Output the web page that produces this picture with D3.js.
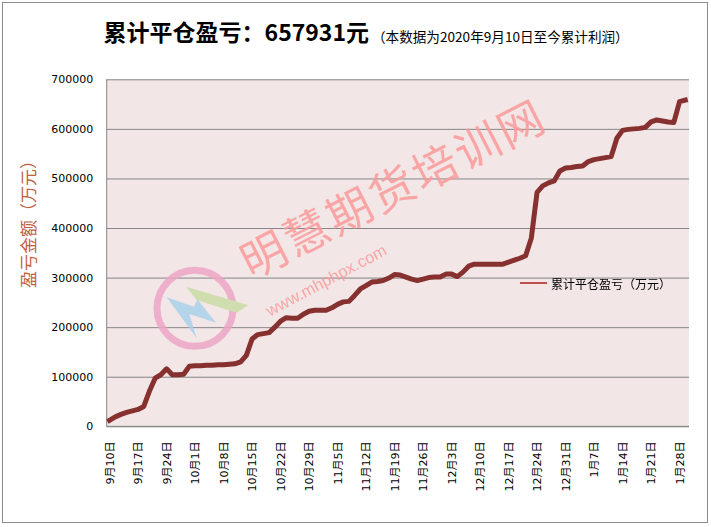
<!DOCTYPE html>
<html><head><meta charset="utf-8">
<script src="https://cdn.jsdelivr.net/npm/d3@7"></script>
<style>body{margin:0;background:#fff}svg{display:block}</style>
</head><body><svg id="c" width="711" height="527"></svg>
<script>
const dates = [
"9/10","9/11","9/14","9/15","9/16","9/17","9/18","9/21","9/22","9/23","9/24","9/25","9/28","9/29","9/30",
"10/1","10/2","10/5","10/6","10/7","10/8","10/9","10/12","10/13","10/14","10/15","10/16","10/19","10/20","10/21","10/22","10/23","10/26","10/27","10/28","10/29","10/30",
"11/2","11/3","11/4","11/5","11/6","11/9","11/10","11/11","11/12","11/13","11/16","11/17","11/18","11/19","11/20","11/23","11/24","11/25","11/26","11/27","11/30",
"12/1","12/2","12/3","12/4","12/7","12/8","12/9","12/10","12/11","12/14","12/15","12/16","12/17","12/18","12/21","12/22","12/23","12/24","12/25","12/28","12/29","12/30","12/31",
"1/1","1/4","1/5","1/6","1/7","1/8","1/11","1/12","1/13","1/14","1/15","1/18","1/19","1/20","1/21","1/22","1/25","1/26","1/27","1/28","1/29"];
const values = [
12000,19000,24000,28000,31000,34000,40000,71000,97000,104000,116000,104000,104000,105000,121000,
122000,122000,123000,123000,124000,124000,125000,126000,130000,143000,176000,185000,187000,189000,200000,212000,219000,218000,218000,226000,232000,234000,
234000,234000,239000,246000,251000,252000,264000,277000,284000,291000,292000,294000,299000,306000,305000,301000,297000,294000,297000,300000,301000,
301000,307000,307000,302000,311000,323000,327000,327000,327000,327000,327000,327000,331000,335000,339000,344000,380000,472000,485000,491000,495000,515000,521000,
522000,524000,525000,534000,538000,540000,542000,544000,581000,597000,599000,600000,601000,603000,614000,618000,616000,614000,613000,655000,657931];
const tickDates = ["9/10","9/17","9/24","10/1","10/8","10/15","10/22","10/29","11/5","11/12","11/19","11/26","12/3","12/10","12/17","12/24","12/31","1/7","1/14","1/21","1/28"];
const tickLabels = ["9月10日","9月17日","9月24日","10月1日","10月8日","10月15日","10月22日","10月29日","11月5日","11月12日","11月19日","11月26日","12月3日","12月10日","12月17日","12月24日","12月31日","1月7日","1月14日","1月21日","1月28日"];
const yTicks = [0,100000,200000,300000,400000,500000,600000,700000];
const titleMain = "累计平仓盈亏：657931元";
const titleNote = "（本数据为2020年9月10日至今累计利润）";
const seriesName = "累计平仓盈亏（万元）";
const yTitle = "盈亏金额（万元）";
const wmText = "明慧期货培训网";
const wmUrl = "www.mhphpx.com";

const svg = d3.select("#c");
const P = {l:106.7, r:689, t:79.3, b:426.3};
const x = d3.scalePoint().domain(dates).range([P.l, 688.1]).padding(0.5);
const y = d3.scaleLinear().domain([0,700000]).range([P.b, P.t]);
const CJK = "'Noto Sans CJK SC','Noto Sans',sans-serif";

// outer border
svg.append("rect").attr("x",2.5).attr("y",2.5).attr("width",705).attr("height",520)
  .attr("fill","#fff").attr("stroke","#8c8c8c").attr("stroke-width",1);

// plot background
svg.append("rect").attr("x",P.l).attr("y",P.t).attr("width",P.r-P.l).attr("height",P.b-P.t).attr("fill","#f2e6e6");

// y axis with gridlines
const ya = svg.append("g").attr("transform",`translate(${P.l},0)`)
  .call(d3.axisLeft(y).tickValues(yTicks).tickSize(-(P.r-P.l)).tickPadding(13.4).tickFormat(d=>String(d)));
ya.select(".domain").remove();
ya.selectAll(".tick line").attr("stroke","#868686").attr("stroke-width",1);
ya.selectAll(".tick text").attr("font-family","'DejaVu Sans',sans-serif").attr("font-size",11).attr("fill","#000");

// axis lines
svg.append("line").attr("x1",P.l).attr("x2",P.l).attr("y1",P.t).attr("y2",P.b+0.5).attr("stroke","#868686");
svg.append("line").attr("x1",P.l).attr("x2",P.r).attr("y1",P.b).attr("y2",P.b).attr("stroke","#868686");

// watermark logo
const wm = svg.append("g").attr("opacity",0.85);
wm.append("circle").attr("cx",195).attr("cy",308.3).attr("r",38).attr("fill","none").attr("stroke","#eea6c6").attr("stroke-width",7);
wm.append("polygon").attr("points","186,286.7 248.3,305 236.7,312.7 196.7,300").attr("fill","#c9dca6");
wm.append("polygon").attr("points","166.7,297.3 194,306.7 197.3,299.3 216,322.7 189.3,314 196.7,338.3").attr("fill","#a9d2ea");

// watermark text
wm.append("text").attr("transform","translate(392,186) rotate(-27)").attr("text-anchor","middle")
  .attr("dominant-baseline","central").attr("font-family",CJK).attr("font-size",45).attr("letter-spacing",3)
  .attr("fill","#fb9a9a").text(wmText);
wm.append("text").attr("transform","translate(326,280) rotate(-28)").attr("text-anchor","middle")
  .attr("dominant-baseline","central").attr("font-family","'Liberation Sans',Arial,sans-serif").attr("font-size",16.5)
  .attr("fill","#f89a9a").text(wmUrl);

// x labels
svg.append("g").selectAll("text").data(tickDates).join("text")
  .attr("transform",(d)=>`translate(${x(d)+0.8},441.5) rotate(-90)`)
  .attr("text-anchor","end").attr("dominant-baseline","central")
  .attr("font-family","'DejaVu Sans','Noto Sans CJK SC',sans-serif").attr("font-size",11).attr("fill","#000")
  .text((d,i)=>tickLabels[i]);

// series line
const line = d3.line().x((d,i)=>x(dates[i])).y(d=>y(d));
svg.append("path").datum(values).attr("d",line).attr("fill","none")
  .attr("stroke","#86302f").attr("stroke-width",5).attr("stroke-linejoin","round").attr("stroke-linecap","square");

// legend
svg.append("line").attr("x1",520).attr("x2",547).attr("y1",283).attr("y2",283).attr("stroke","#c0504d").attr("stroke-width",2);
svg.append("text").attr("x",551).attr("y",283).attr("dominant-baseline","central").attr("font-family",CJK)
  .attr("font-size",12).attr("fill","#000").text(seriesName);

// y title
svg.append("text").attr("transform","translate(27,220) rotate(-90)").attr("text-anchor","middle")
  .attr("dominant-baseline","central").attr("font-family",CJK).attr("font-size",17).attr("fill","#c0603c").text(yTitle);

// title
svg.append("text").attr("x",103.6).attr("y",41).attr("font-family",CJK).attr("font-size",23).attr("font-weight","bold")
  .attr("fill","#000").text(titleMain);
svg.append("text").attr("x",372).attr("y",42).attr("font-family",CJK).attr("font-size",13.6).attr("fill","#000").text(titleNote);
</script></body></html>
